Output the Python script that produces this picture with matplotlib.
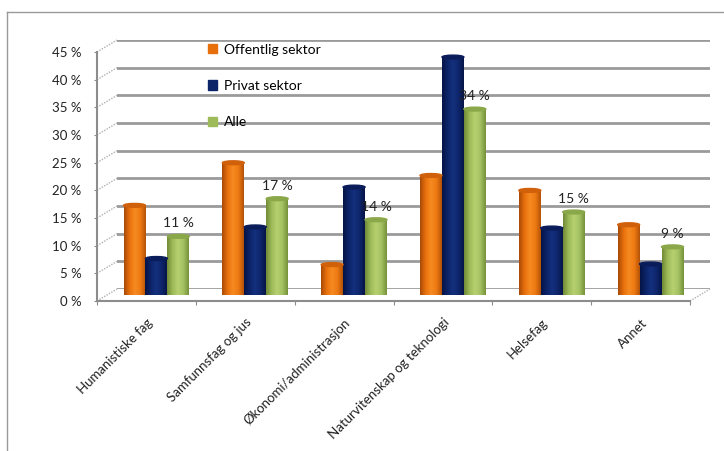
import numpy as np
import matplotlib
matplotlib.use("Agg")
import matplotlib.pyplot as plt
from matplotlib.patches import Ellipse, Rectangle
from matplotlib.colors import LinearSegmentedColormap
from matplotlib.lines import Line2D

categories = ["Humanistiske fag", "Samfunnsfag og jus", "Økonomi/administrasjon",
              "Naturvitenskap og teknologi", "Helsefag", "Annet"]
offentlig = [16.2, 23.9, 5.5, 21.6, 18.9, 12.7]
privat = [6.6, 12.3, 19.5, 43.0, 12.1, 5.6]
alle = [10.6, 17.4, 13.6, 33.6, 15.0, 8.7]
series_names = ["Offentlig sektor", "Privat sektor", "Alle"]
yticks = [0, 5, 10, 15, 20, 25, 30, 35, 40, 45]

plt.rcParams['font.family'] = ['Lato', 'DejaVu Sans']

W, H = 724, 451
fig = plt.figure(figsize=(W / 100, H / 100), dpi=100)

def frac(x0, y_bottom_px, w, h):
    return [x0 / W, 1 - y_bottom_px / H, w / W, h / H]

# geometry (pixels)
fx0, fx1, fy0, fy1 = 97, 690, 301, 52
pw, ph = fx1 - fx0, fy0 - fy1
depth_dx, depth_dy = 20, 12

# figure border
fig.add_artist(Line2D([7 / W, 7 / W], [0, 1 - 12 / H], color="#9a9a9a", lw=1.0))
fig.add_artist(Line2D([7 / W, 1], [1 - 12 / H, 1 - 12 / H], color="#9a9a9a", lw=1.0))

# back wall with gridlines
axb = fig.add_axes(frac(fx0 + depth_dx, fy0 - depth_dy, pw, ph))
axb.set_xlim(0, 6)
axb.set_ylim(0, 45)
for v in yticks:
    axb.axhline(v, color="#9a9a9a", lw=2.0, zorder=1)
axb.axis("off")

# front axis (ticks and labels)
axf = fig.add_axes(frac(fx0, fy0, pw, ph))
axf.set_xlim(0, 6)
axf.set_ylim(0, 45)
axf.patch.set_alpha(0)
for s in ["top", "right"]:
    axf.spines[s].set_visible(False)
for s in ["left", "bottom"]:
    axf.spines[s].set_color("#8c8c8c")
    axf.spines[s].set_linewidth(1.5)
axf.set_yticks(yticks)
axf.set_yticklabels([f"{v} %" for v in yticks], fontsize=9.5, color="#222222")
axf.tick_params(axis="y", length=2, color="#8c8c8c", pad=9)
axf.set_xticks(np.arange(0, 7))
axf.set_xticklabels([])
axf.tick_params(axis="x", which="major", length=3, color="#8c8c8c", direction="out")
axf.set_xticks(np.arange(len(categories)) + 0.5, minor=True)
axf.set_xticklabels(categories, minor=True, rotation=45, ha="right", va="top",
                    rotation_mode="anchor", fontsize=9.5, color="#222222")
axf.tick_params(axis="x", which="minor", length=0, pad=11)
# side wall stubs
ddx = depth_dx / pw * 6
ddy = depth_dy / ph * 45
for v in yticks:
    axf.plot([0, ddx], [v, v + ddy], color="#b0b0b0", lw=1.0, ls=(0, (1, 1)), clip_on=False)
axf.plot([6, 6 + ddx], [0, ddy], color="#b0b0b0", lw=1.0, ls=(0, (1, 1)), clip_on=False)

# bars (mid depth)
axc = fig.add_axes(frac(fx0 + 10, fy0 - 6, pw, ph))
axc.set_xlim(0, 6)
axc.set_ylim(0, 45)
axc.axis("off")

cmaps = [
    LinearSegmentedColormap.from_list("o", ["#a84a06", "#e8700c", "#f78a22", "#ee7a12", "#b55207"]),
    LinearSegmentedColormap.from_list("n", ["#061445", "#0c2468", "#14307e", "#0e266c", "#071548"]),
    LinearSegmentedColormap.from_list("g", ["#708a36", "#9dbb58", "#b7d070", "#a4c262", "#76923a"]),
]
tops = ["#d0600a", "#0a1d5a", "#8aa84a"]
bw = 0.222
x = np.arange(len(categories)) + 0.5
grad = np.linspace(0, 1, 64).reshape(1, -1)
for i, vals in enumerate([offentlig, privat, alle]):
    xs = x + (i - 1) * bw
    bars = axc.bar(xs, vals, width=bw, color=tops[i], zorder=3)
    for b in bars:
        bx, by, bwid, bh = b.get_x(), b.get_y(), b.get_width(), b.get_height()
        im = axc.imshow(grad, cmap=cmaps[i], aspect="auto", zorder=4,
                        extent=[bx, bx + bwid, by, by + bh], interpolation="bilinear")
        im.set_clip_path(b)
        axc.add_patch(Ellipse((bx + bwid / 2, by + bh), bwid, 0.7, color=tops[i], zorder=5))
    if i == 2:
        for xx, v in zip(xs, vals):
            axc.text(xx, v + 1.3, f"{round(v)} %", ha="center", va="bottom",
                     fontsize=10, color="#222222", zorder=6)
axc.set_xlim(0, 6)
axc.set_ylim(0, 45)

handles = [Rectangle((0, 0), 1, 1, color=c) for c in ["#e8700c", "#0c2468", "#9dbb58"]]
leg = fig.legend(handles, series_names, loc="upper left", bbox_to_anchor=(202 / W, 1 - 38 / H),
                 frameon=False, fontsize=10, handlelength=0.65, handleheight=0.65,
                 handletextpad=0.5, labelspacing=1.75, borderaxespad=0)

fig.savefig("out.png", dpi=100)
